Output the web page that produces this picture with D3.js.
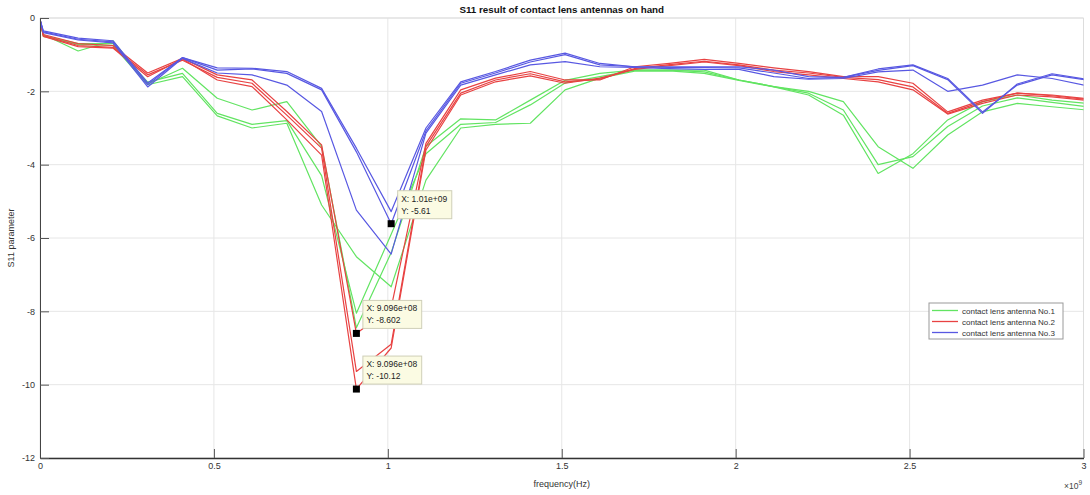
<!DOCTYPE html>
<html>
<head>
<meta charset="utf-8">
<script src="https://cdn.jsdelivr.net/npm/d3@7"></script>
<style>
  html, body { margin: 0; padding: 0; background: #fff; }
  svg { display: block; font-family: "Liberation Sans", Arial, Helvetica, sans-serif; }
</style>
</head>
<body>
<svg id="chart" width="1090" height="495"></svg>
<script>
// Sweep frequencies (GHz) shared by every measurement run
const freqGHz = [0.0003, 0.0096, 0.1096, 0.2096, 0.3096, 0.4096, 0.5096, 0.6096, 0.7096, 0.8096,
                 0.9096, 1.0096, 1.1096, 1.2096, 1.3096, 1.4096, 1.5096, 1.6096, 1.7096, 1.8096,
                 1.9096, 2.0096, 2.1096, 2.2096, 2.3096, 2.4096, 2.5096, 2.6096, 2.7096, 2.8096,
                 2.9096, 3.0096];

// S11 (dB) — three measurement runs per antenna
const antennaNo1 = [
  [-0.05,-0.45,-0.90,-0.62,-1.80,-1.37,-2.19,-2.51,-2.28,-3.50,-8.45,-6.40,-3.50,-2.75,-2.78,-2.24,-1.70,-1.51,-1.42,-1.42,-1.42,-1.69,-1.87,-2.00,-2.28,-3.51,-4.10,-3.19,-2.56,-2.33,-2.42,-2.51],
  [-0.05,-0.48,-0.70,-0.70,-1.75,-1.51,-2.60,-2.90,-2.80,-4.30,-8.05,-5.90,-3.70,-2.90,-2.85,-2.37,-1.77,-1.60,-1.42,-1.42,-1.47,-1.69,-1.87,-2.05,-2.51,-4.00,-3.78,-2.96,-2.40,-2.18,-2.30,-2.42],
  [-0.05,-0.50,-0.72,-0.75,-1.82,-1.60,-2.67,-3.00,-2.87,-5.10,-6.51,-7.33,-4.42,-3.00,-2.90,-2.87,-1.96,-1.64,-1.45,-1.44,-1.51,-1.70,-1.88,-2.10,-2.65,-4.24,-3.70,-2.78,-2.28,-2.10,-2.24,-2.33]
];
const antennaNo2 = [
  [-0.05,-0.45,-0.70,-0.75,-1.50,-1.10,-1.55,-1.69,-2.55,-3.46,-8.602,-7.90,-3.42,-1.96,-1.64,-1.46,-1.69,-1.69,-1.33,-1.24,-1.13,-1.24,-1.36,-1.46,-1.60,-1.60,-1.78,-2.56,-2.24,-2.05,-2.10,-2.20],
  [-0.05,-0.48,-0.75,-0.80,-1.55,-1.15,-1.62,-1.78,-2.65,-3.55,-9.64,-8.90,-3.50,-2.05,-1.69,-1.52,-1.74,-1.67,-1.38,-1.27,-1.18,-1.28,-1.42,-1.50,-1.62,-1.68,-1.88,-2.60,-2.28,-2.05,-2.12,-2.22],
  [-0.05,-0.50,-0.78,-0.82,-1.60,-1.12,-1.69,-1.87,-2.78,-3.74,-10.12,-9.00,-3.60,-2.10,-1.74,-1.58,-1.78,-1.64,-1.40,-1.30,-1.20,-1.30,-1.46,-1.55,-1.65,-1.74,-1.96,-2.62,-2.33,-2.10,-2.15,-2.25]
];
const antennaNo3 = [
  [-0.05,-0.35,-0.55,-0.62,-1.77,-1.08,-1.36,-1.37,-1.46,-1.92,-3.55,-5.28,-3.00,-1.74,-1.46,-1.15,-0.96,-1.24,-1.33,-1.33,-1.33,-1.33,-1.42,-1.60,-1.62,-1.39,-1.28,-1.65,-2.56,-1.83,-1.55,-1.69],
  [-0.05,-0.38,-0.58,-0.65,-1.82,-1.08,-1.42,-1.39,-1.51,-1.96,-3.65,-5.61,-3.08,-1.78,-1.50,-1.20,-1.00,-1.28,-1.33,-1.35,-1.35,-1.36,-1.50,-1.65,-1.62,-1.43,-1.30,-1.68,-2.60,-1.80,-1.52,-1.67],
  [-0.05,-0.40,-0.60,-0.68,-1.88,-1.10,-1.50,-1.55,-1.83,-2.55,-5.24,-6.44,-3.14,-1.83,-1.55,-1.28,-1.19,-1.33,-1.35,-1.38,-1.40,-1.40,-1.60,-1.67,-1.65,-1.47,-1.42,-2.00,-1.83,-1.55,-1.65,-1.85]
];

const seriesNames  = ["contact lens antenna No.1", "contact lens antenna No.2", "contact lens antenna No.3"];
const seriesColors = ["#62e462", "#e84242", "#5858e2"];
const seriesRuns   = [antennaNo1, antennaNo2, antennaNo3];

// Axis ticks
const xTicksGHz = [0, 0.5, 1, 1.5, 2, 2.5, 3];
const yTicks    = [0, -2, -4, -6, -8, -10, -12];

// Data cursors: [series, run, sample index]
const dataTips = [[2, 1, 11], [1, 0, 10], [1, 2, 10]];

const svg = d3.select("#chart");
const plotLeft = 40, plotRight = 1083.5, plotTop = 18, plotBottom = 458;

const x = d3.scaleLinear().domain([0, 3e9]).range([plotLeft, plotRight]);
const y = d3.scaleLinear().domain([-12, 0]).range([plotBottom, plotTop]);

// Grid
const grid = svg.append("g");
grid.selectAll(".gx").data(xTicksGHz).join("line")
  .attr("x1", d => x(d * 1e9)).attr("x2", d => x(d * 1e9))
  .attr("y1", plotTop).attr("y2", plotBottom)
  .attr("stroke", "#e6e6e6").attr("stroke-width", 1);
grid.selectAll(".gy").data(yTicks).join("line")
  .attr("x1", plotLeft).attr("x2", plotRight)
  .attr("y1", d => y(d)).attr("y2", d => y(d))
  .attr("stroke", "#e6e6e6").attr("stroke-width", 1);

// Light box edges
svg.append("line").attr("x1", plotLeft).attr("x2", plotRight).attr("y1", plotTop).attr("y2", plotTop)
  .attr("stroke", "#dddddd");
svg.append("line").attr("x1", plotRight).attr("x2", plotRight).attr("y1", plotTop).attr("y2", plotBottom)
  .attr("stroke", "#dddddd");

// Clip region for the traces
svg.append("defs").append("clipPath").attr("id", "plotClip")
  .append("rect").attr("x", plotLeft).attr("y", plotTop)
  .attr("width", plotRight - plotLeft).attr("height", plotBottom - plotTop);

const line = d3.line()
  .x((d, i) => x(freqGHz[i] * 1e9))
  .y(d => y(d));

const traces = svg.append("g").attr("clip-path", "url(#plotClip)");
seriesRuns.forEach((runs, s) => {
  runs.forEach(run => {
    traces.append("path")
      .datum(run)
      .attr("d", line)
      .attr("fill", "none")
      .attr("stroke", seriesColors[s])
      .attr("stroke-width", 1.2)
      .attr("stroke-linejoin", "round");
  });
});

// Axes
const fmtTick = d => String(d);
const xAxis = d3.axisBottom(x)
  .tickValues(xTicksGHz.map(d => d * 1e9))
  .tickFormat(d => fmtTick(+(d / 1e9).toFixed(1)))
  .tickSizeInner(-9).tickSizeOuter(0).tickPadding(5);
const yAxis = d3.axisLeft(y)
  .tickValues(yTicks)
  .tickFormat(fmtTick)
  .tickSizeInner(-9).tickSizeOuter(0).tickPadding(5);

const gx = svg.append("g").attr("transform", `translate(0,${plotBottom})`).call(xAxis);
const gy = svg.append("g").attr("transform", `translate(${plotLeft},0)`).call(yAxis);
[gx, gy].forEach(g => {
  g.selectAll("text").attr("font-size", 9).attr("fill", "#333")
    .attr("font-family", "'Liberation Sans', Arial, sans-serif");
  g.selectAll(".tick line").attr("stroke", "#555");
});
gx.select(".domain").attr("stroke", "#333").attr("stroke-width", 1.6);
gy.select(".domain").attr("stroke", "#444").attr("stroke-width", 1);

// Exponent marker for the frequency axis
const expo = svg.append("text").attr("x", 1064).attr("y", 489)
  .attr("font-size", 8.5).attr("fill", "#444");
expo.append("tspan").text("×10");
expo.append("tspan").attr("dy", -4).attr("font-size", 6.5).text("9");

// Titles
svg.append("text").attr("x", (plotLeft + plotRight) / 2).attr("y", 13)
  .attr("text-anchor", "middle").attr("font-size", 9.8).attr("font-weight", "bold")
  .attr("fill", "#111").text("S11 result of contact lens antennas on hand");
svg.append("text").attr("x", (plotLeft + plotRight) / 2).attr("y", 487)
  .attr("text-anchor", "middle").attr("font-size", 9).attr("fill", "#333")
  .text("frequency(Hz)");
svg.append("text")
  .attr("transform", `translate(14,${(plotTop + plotBottom) / 2}) rotate(-90)`)
  .attr("text-anchor", "middle").attr("font-size", 9).attr("fill", "#333")
  .text("S11 parameter");

// Legend
const legend = svg.append("g").attr("transform", "translate(929,303)");
legend.append("rect").attr("width", 134).attr("height", 36)
  .attr("fill", "#fff").attr("stroke", "#9a9a9a").attr("stroke-width", 1);
seriesNames.forEach((name, i) => {
  const yy = 7.5 + i * 11;
  legend.append("line").attr("x1", 3).attr("x2", 29).attr("y1", yy).attr("y2", yy)
    .attr("stroke", seriesColors[i]).attr("stroke-width", 1.3);
  legend.append("text").attr("x", 33).attr("y", yy + 3).attr("font-size", 8)
    .attr("fill", "#333").text(name);
});

// Data cursor labels, MATLAB-style numbers with 4 significant digits
function fmtSig(v) {
  let s = Number(v).toPrecision(4);
  if (s.includes("e")) {
    let [m, e] = s.split("e");
    if (m.includes(".")) m = m.replace(/\.?0+$/, "");
    const sign = e[0] === "-" ? "-" : "+";
    const digits = e.replace(/^[+-]/, "").padStart(2, "0");
    return `${m}e${sign}${digits}`;
  }
  if (s.includes(".")) s = s.replace(/\.?0+$/, "");
  return s;
}

const tipLayer = svg.append("g");
dataTips.forEach(([s, r, i]) => {
  const fx = freqGHz[i] * 1e9;
  const v = seriesRuns[s][r][i];
  const px = x(fx), py = y(v);
  const g = tipLayer.append("g");
  const box = g.append("rect");
  const bx = px + 6.5, by = py - 33;
  const t1 = g.append("text").attr("x", bx + 3.5).attr("y", by + 11)
    .attr("font-size", 8.5).attr("fill", "#222").text(`X: ${fmtSig(fx)}`);
  const t2 = g.append("text").attr("x", bx + 3.5).attr("y", by + 23)
    .attr("font-size", 8.5).attr("fill", "#222").text(`Y: ${fmtSig(v)}`);
  const w = Math.max(t1.node().getComputedTextLength(), t2.node().getComputedTextLength()) + 8;
  box.attr("x", bx).attr("y", by).attr("width", w).attr("height", 28)
    .attr("fill", "#fbfbe3").attr("stroke", "#cfcfb8").attr("stroke-width", 1);
  g.append("rect").attr("x", px - 3.5).attr("y", py - 3.5).attr("width", 7).attr("height", 7)
    .attr("fill", "#000");
});
</script>
</body>
</html>
